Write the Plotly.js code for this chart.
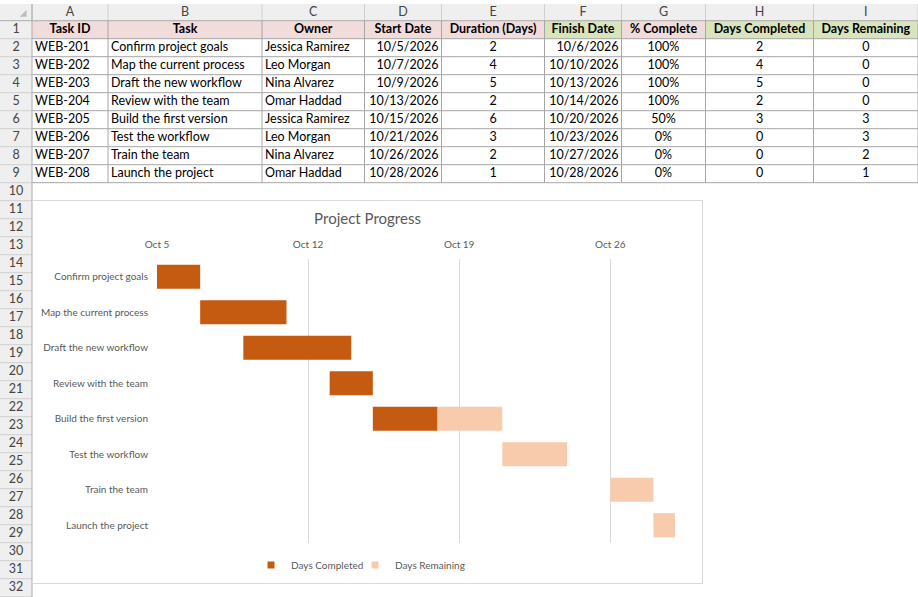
<!DOCTYPE html>
<html>
<head>
<meta charset="utf-8">
<script src="https://cdn.plot.ly/plotly-3.0.1.min.js"></script>
<style>
  body { margin: 0; background: #fff; }
  #sheet { position: absolute; left: 0; top: 0; width: 918px; height: 597px; }
  #chart { position: absolute; left: 32px; top: 200px; width: 671px; height: 384px;
           border: 1px solid #d9d9d9; box-sizing: border-box; background: #fff; }
</style>
</head>
<body>
<div id="sheet"></div>
<div id="chart"></div>
<script>
// sheet data
const colLetters = ["A", "B", "C", "D", "E", "F", "G", "H", "I"];
const headerLabels = ["Task ID", "Task", "Owner", "Start Date", "Duration (Days)",
                      "Finish Date", "% Complete", "Days Completed", "Days Remaining"];
const taskIds = ["WEB-201", "WEB-202", "WEB-203", "WEB-204", "WEB-205", "WEB-206", "WEB-207", "WEB-208"];
const tasks = ["Confirm project goals", "Map the current process", "Draft the new workflow",
               "Review with the team", "Build the first version", "Test the workflow",
               "Train the team", "Launch the project"];
const owners = ["Jessica Ramirez", "Leo Morgan", "Nina Alvarez", "Omar Haddad",
                "Jessica Ramirez", "Leo Morgan", "Nina Alvarez", "Omar Haddad"];
const startDates = ["10/5/2026", "10/7/2026", "10/9/2026", "10/13/2026",
                    "10/15/2026", "10/21/2026", "10/26/2026", "10/28/2026"];
const durations = [2, 4, 5, 2, 6, 3, 2, 1];
const finishDates = ["10/6/2026", "10/10/2026", "10/13/2026", "10/14/2026",
                     "10/20/2026", "10/23/2026", "10/27/2026", "10/28/2026"];
const pctComplete = ["100%", "100%", "100%", "100%", "50%", "0%", "0%", "0%"];
const daysCompleted = [2, 4, 5, 2, 3, 0, 0, 0];
const daysRemaining = [0, 0, 0, 0, 3, 3, 2, 1];

const FONT = "Lato, 'Liberation Sans', sans-serif";
const DAY = 86400000;

// ---------- spreadsheet grid ----------
const W = 918, H = 597;
const headTop = 4, row1Top = 20.7, rowH = 18, lastRow = 32;
const colWidths = [32, 76, 154, 102.5, 77, 103, 77, 84, 108, 104.5];
const colAlign = ["left", "left", "left", "right", "center", "right", "center", "center", "center"];
const greenCols = [5, 7, 8];
const dataCols = [taskIds, tasks, owners, startDates, durations, finishDates, pctComplete, daysCompleted, daysRemaining];
const cellSize = 12.5;

const colEdges = [0];
colWidths.forEach(w => colEdges.push(colEdges[colEdges.length - 1] + w));
const rowTop = r => row1Top + (r - 1) * rowH;
const rowMid = r => rowTop(r) + rowH / 2 + 0.5;
const tableBottom = rowTop(dataCols[0].length + 2);

const shapes = [];
function rect(x0, y0, x1, y1, fill) {
  shapes.push({ type: "rect", xref: "x", yref: "y", x0, y0, x1, y1, layer: "below",
                fillcolor: fill, line: { width: 0 } });
}
function line(x0, y0, x1, y1, color) {
  shapes.push({ type: "line", xref: "x", yref: "y", x0, y0, x1, y1, layer: "below",
                line: { color, width: 1 } });
}

// header strip and row-number column
rect(0, headTop, W, row1Top, "#efefef");
rect(0, row1Top, colEdges[1], H, "#efefef");
// header row 1 fills
headerLabels.forEach((h, i) => {
  rect(colEdges[i + 1], rowTop(1), colEdges[i + 2], rowTop(2), greenCols.includes(i) ? "#d8e4bc" : "#f2dcdb");
});
// column letter separators
for (let c = 1; c < colEdges.length; c++) line(colEdges[c], headTop, colEdges[c], row1Top, "#cfcfcf");
// row number separators
for (let r = 2; r <= lastRow + 1; r++) line(0, rowTop(r), colEdges[1], rowTop(r), "#d0d0d0");
// cell borders
for (let r = 2; r <= dataCols[0].length + 2; r++) line(colEdges[1], rowTop(r), W, rowTop(r), "#a6a6a6");
for (let c = 2; c < colEdges.length; c++) line(colEdges[c], row1Top, colEdges[c], tableBottom, "#a6a6a6");
line(0, row1Top, W, row1Top, "#ababab");
line(colEdges[1], headTop, colEdges[1], H, "#ababab");
// select-all triangle
shapes.push({ type: "path", xref: "x", yref: "y", layer: "below",
              path: "M 26.5 10 L 26.5 16.8 L 19.7 16.8 Z", fillcolor: "#bcbcbc", line: { width: 0 } });

const sheetTraces = [];
function textTrace(xs, ys, texts, pos, font) {
  sheetTraces.push({ type: "scatter", mode: "text", x: xs, y: ys, text: texts,
                     textposition: pos, textfont: font, hoverinfo: "skip",
                     showlegend: false, cliponaxis: false });
}
const colMid = c => (colEdges[c] + colEdges[c + 1]) / 2;

// column letters
textTrace(colLetters.map((l, i) => colMid(i + 1)), colLetters.map(() => (headTop + row1Top) / 2 + 0.5),
          colLetters, "middle center", { family: FONT, size: cellSize, color: "#444444" });
// row numbers
const rowNums = [];
for (let r = 1; r <= lastRow; r++) rowNums.push(r);
textTrace(rowNums.map(() => colMid(0)), rowNums.map(r => rowMid(r)), rowNums.map(String),
          "middle center", { family: FONT, size: cellSize, color: "#444444" });
// header row
textTrace(headerLabels.map((h, i) => colMid(i + 1)), headerLabels.map(() => rowMid(1)), headerLabels,
          "middle center", { family: FONT, size: cellSize, color: "#000000", weight: "bold" });
// data cells
dataCols.forEach((col, i) => {
  const c = i + 1, a = colAlign[i];
  const x = a === "left" ? colEdges[c] + 3 : a === "right" ? colEdges[c + 1] - 3 : colMid(c);
  const pos = a === "left" ? "middle right" : a === "right" ? "middle left" : "middle center";
  textTrace(col.map(() => x), col.map((v, r) => rowMid(r + 2)), col.map(String), pos,
            { family: FONT, size: cellSize, color: "#000000" });
});

Plotly.newPlot("sheet", sheetTraces, {
  width: W, height: H,
  margin: { l: 0, r: 0, t: 0, b: 0 },
  paper_bgcolor: "#ffffff", plot_bgcolor: "#ffffff",
  xaxis: { range: [0, W], visible: false, fixedrange: true },
  yaxis: { range: [H, 0], visible: false, fixedrange: true },
  showlegend: false,
  hovermode: false,
  shapes
}, { staticPlot: true });

// ---------- Gantt chart ----------
function toISO(s) {
  const [m, d, y] = s.split("/").map(Number);
  return y + "-" + String(m).padStart(2, "0") + "-" + String(d).padStart(2, "0");
}
function addDays(iso, n) {
  const t = new Date(iso + "T00:00:00Z").getTime() + n * DAY;
  return new Date(t).toISOString().slice(0, 10);
}

const startISO = startDates.map(toISO);
const completedColor = "#c55a11", remainingColor = "#f8cbad";

const completedTrace = {
  type: "bar", orientation: "h", name: "Days Completed",
  y: tasks, base: startISO, x: daysCompleted.map(d => d * DAY),
  marker: { color: completedColor }, showlegend: false
};
const remainingTrace = {
  type: "bar", orientation: "h", name: "Days Remaining",
  y: tasks, base: startISO.map((s, i) => addDays(s, daysCompleted[i])),
  x: daysRemaining.map(d => d * DAY),
  marker: { color: remainingColor }, showlegend: false
};
// legend keys (small squares like the spreadsheet chart), one legend each
const legendKeys = [["Days Completed", completedColor, "legend"],
                    ["Days Remaining", remainingColor, "legend2"]].map(([n, c, lg]) => ({
  type: "scatter", mode: "markers", name: n, x: [null], y: [null], legend: lg,
  marker: { symbol: "square", size: 7, color: c }, hoverinfo: "skip"
}));

const CW = 669, CH = 382;
const legendBase = {
  orientation: "h",
  xref: "container", xanchor: "left",
  yref: "container", y: 18 / CH, yanchor: "middle",
  font: { size: 10, color: "#595959" },
  bgcolor: "rgba(0,0,0,0)"
};

const layout = {
  width: CW, height: CH,
  margin: { l: 124, r: 27, t: 58, b: 40 },
  paper_bgcolor: "#ffffff",
  plot_bgcolor: "#ffffff",
  font: { family: FONT, size: 10, color: "#595959" },
  title: {
    text: "Project Progress",
    font: { family: FONT, size: 15, color: "#595959" },
    x: 0.5, xref: "container", xanchor: "center",
    y: 1 - 18 / CH, yref: "container", yanchor: "middle"
  },
  barmode: "overlay",
  bargap: 0.32,
  xaxis: {
    type: "date",
    side: "top",
    range: ["2026-10-05", "2026-10-29"],
    tick0: "2026-10-05",
    dtick: 7 * DAY,
    tickformat: "%b %-d",
    showgrid: true,
    gridcolor: "#d9d9d9",
    gridwidth: 1,
    zeroline: false,
    showline: false,
    ticks: "",
    ticklabelstandoff: 8,
    tickfont: { size: 10, color: "#595959" }
  },
  yaxis: {
    type: "category",
    autorange: "reversed",
    showgrid: false,
    zeroline: false,
    showline: false,
    ticks: "",
    ticklabelstandoff: 8,
    tickfont: { size: 10, color: "#595959" }
  },
  showlegend: true,
  legend: Object.assign({}, legendBase, { x: (251 - 33) / CW }),
  legend2: Object.assign({}, legendBase, { x: (355 - 33) / CW })
};

Plotly.newPlot("chart", [completedTrace, remainingTrace].concat(legendKeys), layout, { staticPlot: true });
</script>
</body>
</html>
